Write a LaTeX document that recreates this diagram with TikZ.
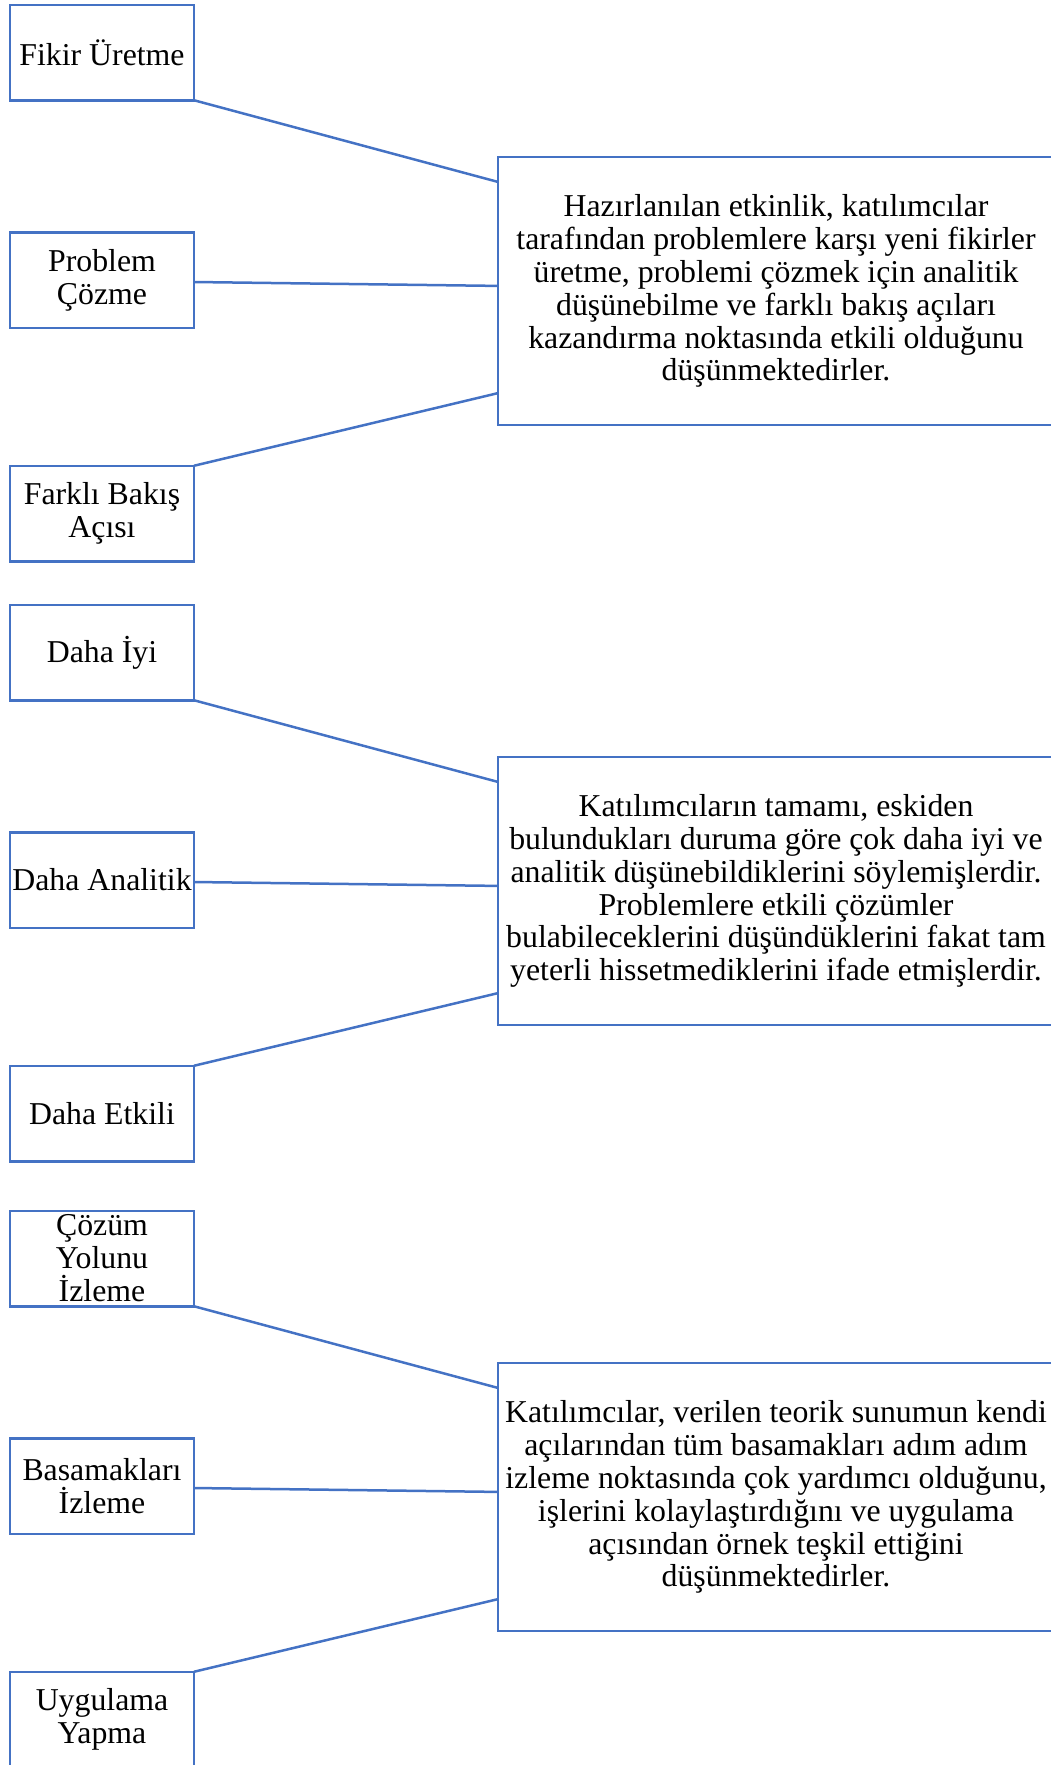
\documentclass[tikz,border=0pt]{standalone}
\usepackage{fontspec}
\setmainfont{Liberation Serif}
\usetikzlibrary{calc}
\definecolor{frameblue}{HTML}{4472C4}
\begin{document}
\begin{tikzpicture}[x=1pt,y=-1pt,
  box/.style={draw=frameblue,line width=2.5pt,fill=white,inner sep=0pt,outer sep=0pt,align=center},
  keybox/.style={box,minimum width=184pt,minimum height=95.5pt,font=\fontsize{31.8}{33}\selectfont},
  notebox/.style={box,minimum width=556pt,minimum height=268pt,font=\fontsize{31.8}{32.9}\selectfont},
  link/.style={draw=frameblue,line width=2.5pt}]
\useasboundingbox (0,0) rectangle (1051,1765);

% first group
\node[keybox]  (a1) at (102,52.5)  {Fikir Üretme};
\node[keybox]  (a2) at (102,280)   {Problem\\Çözme};
\node[keybox]  (a3) at (102,513.5) {Farklı Bakış\\Açısı};
\node[notebox] (A)  at (776,291)   {Hazırlanılan etkinlik, katılımcılar\\tarafından problemlere karşı yeni fikirler\\üretme, problemi çözmek için analitik\\düşünebilme ve farklı bakış açıları\\kazandırma noktasında etkili olduğunu\\düşünmektedirler.};
\draw[link] (a1.south east) -- ($(A.north west)!0.093!(A.south west)$);
\draw[link] ($(a2.east)+(0,2)$) -- ($(A.north west)!0.481!(A.south west)$);
\draw[link] (a3.north east) -- ($(A.north west)!0.881!(A.south west)$);

% second group
\node[keybox]  (b1) at (102,652.5)  {Daha İyi};
\node[keybox]  (b2) at (102,880)    {Daha Analitik};
\node[keybox]  (b3) at (102,1113.5) {Daha Etkili};
\node[notebox] (B)  at (776,891)    {Katılımcıların tamamı, eskiden\\bulundukları duruma göre çok daha iyi ve\\analitik düşünebildiklerini söylemişlerdir.\\Problemlere etkili çözümler\\bulabileceklerini düşündüklerini fakat tam\\yeterli hissetmediklerini ifade etmişlerdir.};
\draw[link] (b1.south east) -- ($(B.north west)!0.093!(B.south west)$);
\draw[link] ($(b2.east)+(0,2)$) -- ($(B.north west)!0.481!(B.south west)$);
\draw[link] (b3.north east) -- ($(B.north west)!0.881!(B.south west)$);

% third group
\node[keybox]  (c1) at (102,1258.5) {Çözüm\\Yolunu\\İzleme};
\node[keybox]  (c2) at (102,1486)   {Basamakları\\İzleme};
\node[keybox]  (c3) at (102,1719.5) {Uygulama\\Yapma};
\node[notebox] (C)  at (776,1497)   {Katılımcılar, verilen teorik sunumun kendi\\açılarından tüm basamakları adım adım\\izleme noktasında çok yardımcı olduğunu,\\işlerini kolaylaştırdığını ve uygulama\\açısından örnek teşkil ettiğini\\düşünmektedirler.};
\draw[link] (c1.south east) -- ($(C.north west)!0.093!(C.south west)$);
\draw[link] ($(c2.east)+(0,2)$) -- ($(C.north west)!0.481!(C.south west)$);
\draw[link] (c3.north east) -- ($(C.north west)!0.881!(C.south west)$);
\end{tikzpicture}
\end{document}
